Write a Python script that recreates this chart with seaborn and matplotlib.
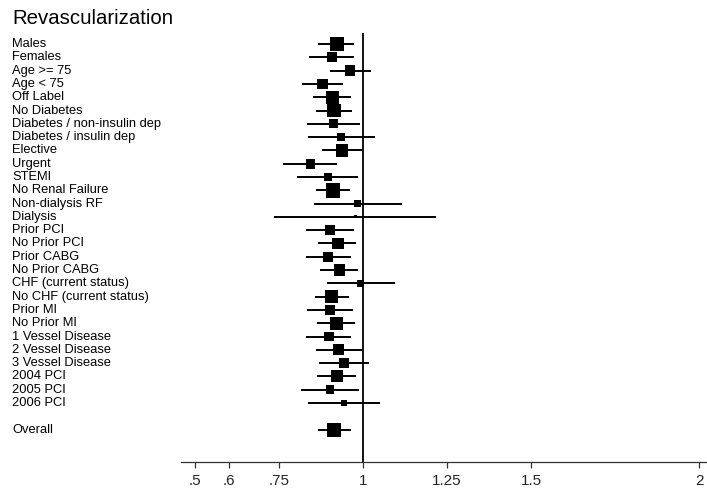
import matplotlib
matplotlib.use("Agg")
import matplotlib.pyplot as plt
import matplotlib.transforms as mtransforms
import numpy as np
import pandas as pd
import seaborn as sns

subgroups = [
    "Males", "Females", "Age >= 75", "Age < 75", "Off Label", "No Diabetes",
    "Diabetes / non-insulin dep", "Diabetes / insulin dep", "Elective", "Urgent",
    "STEMI", "No Renal Failure", "Non-dialysis RF", "Dialysis", "Prior PCI",
    "No Prior PCI", "Prior CABG", "No Prior CABG", "CHF (current status)",
    "No CHF (current status)", "Prior MI", "No Prior MI", "1 Vessel Disease",
    "2 Vessel Disease", "3 Vessel Disease", "2004 PCI", "2005 PCI", "2006 PCI",
    "Overall",
]
estimate = [
    0.922, 0.907, 0.961, 0.880, 0.908, 0.914, 0.911, 0.935, 0.937, 0.844,
    0.896, 0.910, 0.984, 0.977, 0.902, 0.925, 0.896, 0.930, 0.993, 0.907,
    0.902, 0.921, 0.898, 0.928, 0.943, 0.922, 0.902, 0.944, 0.915,
]
ci_low = [
    0.865, 0.839, 0.902, 0.818, 0.852, 0.860, 0.834, 0.835, 0.879, 0.763,
    0.805, 0.860, 0.855, 0.736, 0.830, 0.867, 0.829, 0.873, 0.892, 0.856,
    0.834, 0.864, 0.830, 0.859, 0.870, 0.864, 0.816, 0.836, 0.865,
]
ci_high = [
    0.974, 0.974, 1.023, 0.940, 0.963, 0.968, 0.991, 1.037, 0.997, 0.924,
    0.986, 0.961, 1.116, 1.216, 0.974, 0.980, 0.964, 0.986, 1.094, 0.959,
    0.971, 0.976, 0.965, 0.996, 1.019, 0.979, 0.988, 1.051, 0.965,
]
weight = [
    16.9, 8.1, 10.0, 10.0, 14.4, 15.6, 7.2, 4.9, 13.2, 8.1,
    6.4, 18.2, 3.6, 0.9, 8.1, 12.1, 8.1, 12.1, 3.6, 15.6,
    10.0, 15.6, 8.1, 10.0, 9.0, 12.1, 6.4, 3.6, 16.9,
]
tick_values = [0.5, 0.6, 0.75, 1, 1.25, 1.5, 2]
tick_labels = [".5", ".6", ".75", "1", "1.25", "1.5", "2"]

df = pd.DataFrame({
    "Subgroup": subgroups, "Estimate": estimate,
    "Low": ci_low, "High": ci_high, "Weight": weight,
})
# one blank row before Overall
df["Row"] = list(range(len(df) - 1)) + [len(df)]

sns.set_style("white")
plt.rcParams["font.family"] = ["Liberation Sans", "DejaVu Sans"]

W, H = 707, 495
fig = plt.figure(figsize=(W / 100, H / 100), dpi=100)
ax = fig.add_axes([181 / W, 1 - 461.5 / H, 1 - 181 / W, (461.5 - 33) / H])

ax.hlines(df["Row"], df["Low"], df["High"], color="black", linewidth=1.4)
sns.scatterplot(data=df, x="Estimate", y="Row", size="Weight",
                sizes=(0, 120), size_norm=(0, 20), marker="s",
                color="black", linewidth=0, legend=False, ax=ax)
ax.axvline(1, color="black", linewidth=1.3)

ax.set_xlim(1 - 182 / 336, 1 + 344 / 336)
ax.set_ylim(31.4, -0.83)
ax.set_xticks(tick_values)
ax.set_xticklabels(tick_labels, fontsize=11)
ax.set_yticks([])
ax.set_xlabel("")
ax.set_ylabel("")
for side in ["left", "top", "right"]:
    ax.spines[side].set_visible(False)
ax.spines["bottom"].set_color("#333333")
ax.spines["bottom"].set_linewidth(0.9)
ax.tick_params(axis="x", direction="out", length=4, width=0.9,
               color="#333333", pad=5, bottom=True)

trans = mtransforms.blended_transform_factory(fig.transFigure, ax.transData)
for _, r in df.iterrows():
    ax.text(12 / W, r["Row"], r["Subgroup"], transform=trans,
            ha="left", va="center", fontsize=9.3, color="black")

fig.text(12 / W, 1 - 18 / H, "Revascularization", ha="left", va="center",
         fontsize=14.7, color="black")

fig.savefig("out.png", dpi=100)
